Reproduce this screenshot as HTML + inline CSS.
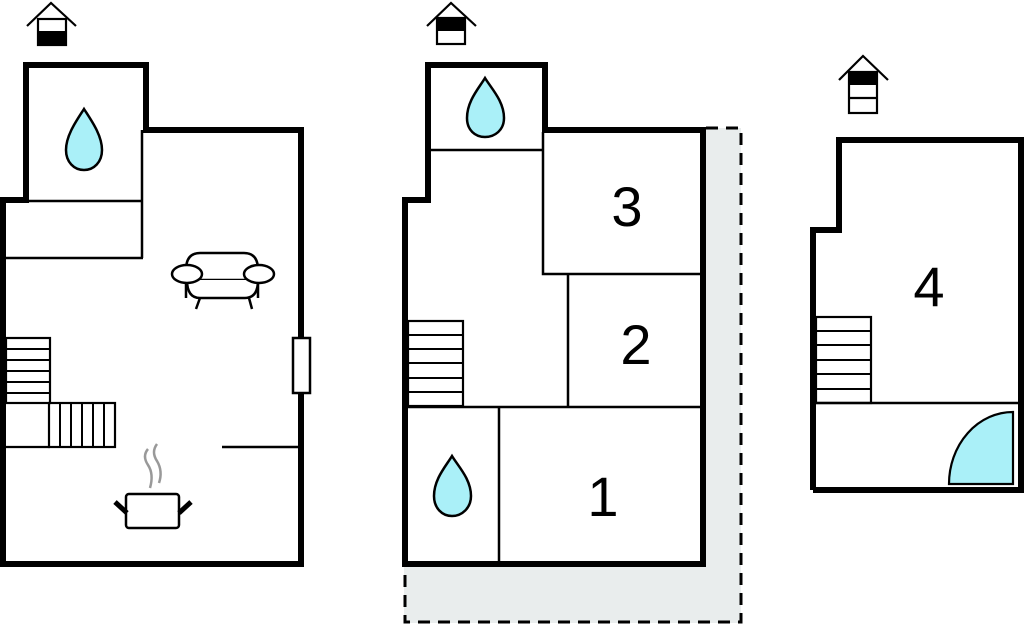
<!DOCTYPE html>
<html><head><style>body{margin:0;background:#fff}svg{display:block}</style></head>
<body>
<svg width="1024" height="626" viewBox="0 0 1024 626" xmlns="http://www.w3.org/2000/svg">
<path d="M706,128 H741 V623 H404 V567 H706 Z" fill="#e9eded"/>
<path d="M706,128 H741 V622 H405 V567" fill="none" stroke="#000" stroke-width="3" stroke-dasharray="12,8"/>

<g fill="none" stroke="#000" stroke-width="2.2">
 <polyline points="27,26 51,3 76,26"/>
 <rect x="38" y="19" width="28" height="26" fill="#fff"/>
 <polyline points="427,26 451,3 476,26"/>
 <rect x="437" y="18" width="28" height="26" fill="#fff"/>
 <polyline points="839,80 863,56 888,80"/>
 <rect x="849" y="72" width="28" height="41" fill="#fff"/>
 <line x1="849" y1="98" x2="877" y2="98"/>
</g>
<rect x="38" y="31" width="28" height="14" fill="#000"/>
<rect x="437" y="18" width="28" height="13" fill="#000"/>
<rect x="849" y="72" width="28" height="13" fill="#000"/>

<g fill="none" stroke="#000">
 <path d="M3,567 V200 H26 V65 H146 V130 H301 V564 H3" stroke-width="6"/>
 <path d="M6,201 H143 M6,258 H143 M142,130 V258" stroke-width="2.5"/>
 <rect x="6" y="338" width="44" height="65" stroke-width="2.2"/>
 <path d="M6,349 H50 M6,360 H50 M6,371 H50 M6,382 H50 M6,393 H50" stroke-width="2"/>
 <rect x="49" y="403" width="66" height="44" stroke-width="2.2"/>
 <path d="M60,403 V447 M71,403 V447 M82,403 V447 M93,403 V447 M104,403 V447" stroke-width="2"/>
 <path d="M6,447 H50" stroke-width="2.2"/>
 <path d="M222,447 H298" stroke-width="2.5"/>
 <rect x="293" y="338" width="17" height="55" fill="#fff" stroke-width="2.5"/>
 <g stroke-width="2.5" fill="#fff">
  <path d="M186,298 V270 Q186,253 200,253 H244 Q258,253 258,270 V298"/>
  <path d="M186,280 H258"/>
  <path d="M187,280 Q187,298 200,298 H245 Q258,298 258,280"/>
  <ellipse cx="187" cy="274" rx="15" ry="9"/>
  <ellipse cx="259" cy="274" rx="15" ry="9"/>
  <path d="M200,298 L196,309 M249,298 L252,309"/>
 </g>
 <rect x="126" y="494" width="53" height="34" rx="3" stroke-width="2.5"/>
 <path d="M115,502 L127,513 M191,502 L179,513" stroke-width="5"/>
 <path d="M148,449 Q142,456 148,465 Q154,474 150,488 M157,444 Q151,452 157,461 Q163,471 159,483" stroke="#999" stroke-width="2.5"/>
</g>

<g fill="none" stroke="#000">
 <path d="M405,567 V200 H428 V65 H545 V130 H703 V564 H405" stroke-width="6"/>
 <path d="M431,150 H543 M543,132 V274 H700 M568,274 V407 M408,407 H700 M499,407 V562" stroke-width="2.5"/>
 <rect x="408" y="321" width="55" height="85" stroke-width="2.2"/>
 <path d="M408,335 H463 M408,349 H463 M408,363 H463 M408,378 H463 M408,392 H463" stroke-width="2"/>
</g>

<g fill="none" stroke="#000">
 <path d="M813,490 V230 H839 V140 H1021 V490 H813" stroke-width="6"/>
 <path d="M816,403 H1018" stroke-width="2.5"/>
 <rect x="816" y="317" width="55" height="86" stroke-width="2.2"/>
 <path d="M816,331 H871 M816,345 H871 M816,360 H871 M816,374 H871 M816,389 H871" stroke-width="2"/>
 <path d="M949,484 A64,72 0 0 1 1013,412 V484 Z" fill="#aaf0f8" stroke-width="2.2"/>
</g>

<g fill="#aaf0f8" stroke="#000" stroke-width="2.5">
 <path d="M84,109 C77,120 66,135 66,150 C66,162 74,170 84,170 C94,170 102,162 102,150 C102,135 91,120 84,109 Z"/>
 <path d="M485,78 C479,88 467,101 467,118 C467,130 475,137 485,137 C495,137 504,130 504,118 C504,101 491,88 485,78 Z"/>
 <path d="M452,456 C446,466 434,479 434,496 C434,508 442,516 452,516 C462,516 471,508 471,496 C471,479 458,466 452,456 Z"/>
</g>

<g font-family="Liberation Sans, sans-serif" font-size="56" fill="#000" text-anchor="middle">
 <text x="627" y="226">3</text>
 <text x="636" y="364">2</text>
 <text x="603" y="516">1</text>
 <text x="929" y="306">4</text>
</g>
</svg>
</body></html>
